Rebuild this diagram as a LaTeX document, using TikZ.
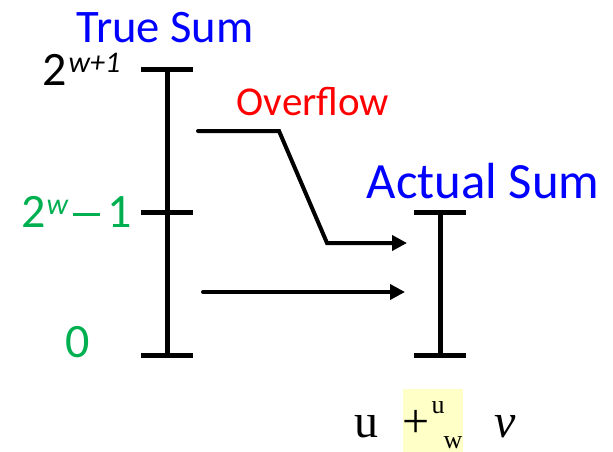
\documentclass[tikz,border=0pt]{standalone}
\usepackage{fontspec}
\setmainfont{Carlito}
\newfontfamily\sumserif{Liberation Serif}
\usetikzlibrary{arrows.meta,positioning}
\definecolor{truthblue}{RGB}{0,0,255}
\definecolor{wrapred}{RGB}{255,0,0}
\definecolor{rangegreen}{RGB}{0,176,80}
\definecolor{hilite}{RGB}{255,255,200}
\newcommand{\expo}[1]{\raisebox{6.5pt}{\fontsize{15}{15}\selectfont\itshape #1}}
\tikzset{
  >={Triangle[length=7.5pt,width=7.5pt]},
  bar/.style={line width=2.5pt},
  flow/.style={->,line width=2pt,line cap=round,line join=miter},
  title/.style={text=truthblue,font=\fontsize{#1}{#1}\selectfont,inner sep=0pt,anchor=base},
  title/.default=24,
  tag/.style={font=\fontsize{24}{24}\selectfont,inner sep=0pt,anchor=base west},
  op/.style={font=\sumserif\fontsize{24}{24}\selectfont,inner sep=0pt,anchor=base},
  opsmall/.style={font=\sumserif\fontsize{13}{13}\selectfont,inner sep=0pt,anchor=base},
}
\begin{document}
\begin{tikzpicture}[x=0.5pt,y=-0.5pt]
  \useasboundingbox (0,0) rectangle (613,451);
  % the two ranges
  \coordinate (ltop) at (167,69);
  \coordinate (lmid) at (167,212);
  \coordinate (lbot) at (167,355);
  \coordinate (rtop) at (440,212);
  \coordinate (rbot) at (440,355);
  \draw[bar] (ltop) -- (lbot);
  \foreach \p in {ltop,lmid,lbot} \draw[bar] ([xshift=-13]\p) -- ([xshift=13]\p);
  \draw[bar] (rtop) -- (rbot);
  \foreach \p in {rtop,rbot} \draw[bar] ([xshift=-13]\p) -- ([xshift=13]\p);
  % labels
  \node[title=23.3] (truesum) at (165,42) {True Sum};
  \node[title=25.4] (actualsum) at (483,198) {Actual Sum};
  \node[tag] (twowone) at (42,85) {2\kern1pt\expo{w+1}};
  \node[tag,text=rangegreen] (twowm) at (21,227)
    {2\kern0.5pt\expo{w}\kern2.5pt\rule[5.3pt]{13.5pt}{1.5pt}\kern3.5pt 1};
  \node[tag,text=rangegreen,anchor=base] (zero) at (78,357) {0};
  \node[title=20.5,text=wrapred] (overflow) at (313,115) {Overflow};
  % arrows
  \coordinate (ovstart) at (198,131);
  \coordinate (ovbend) at (279,131);
  \coordinate (ovdrop) at (327,243);
  \coordinate (ovend) at (407,243);
  \coordinate (nostart) at (203,292);
  \coordinate (noend) at (405,292);
  \draw[flow] (ovstart) -- (ovbend) -- (ovdrop) -- (ovend);
  \draw[flow] (nostart) -- (noend);
  % operator
  \node[fill=hilite,minimum width=30pt,minimum height=31.5pt,inner sep=0pt] (hl) at (433,420) {};
  \node[op] (uleft) at (366,437) {u};
  \node[op] (plus) at (416,437) {+};
  \node[opsmall] (supu) at (438,413) {u};
  \node[opsmall] (subw) at (453,448) {w};
  \node[op,font=\sumserif\itshape\fontsize{24}{24}\selectfont] (vright) at (505,437) {v};
\end{tikzpicture}
\end{document}
